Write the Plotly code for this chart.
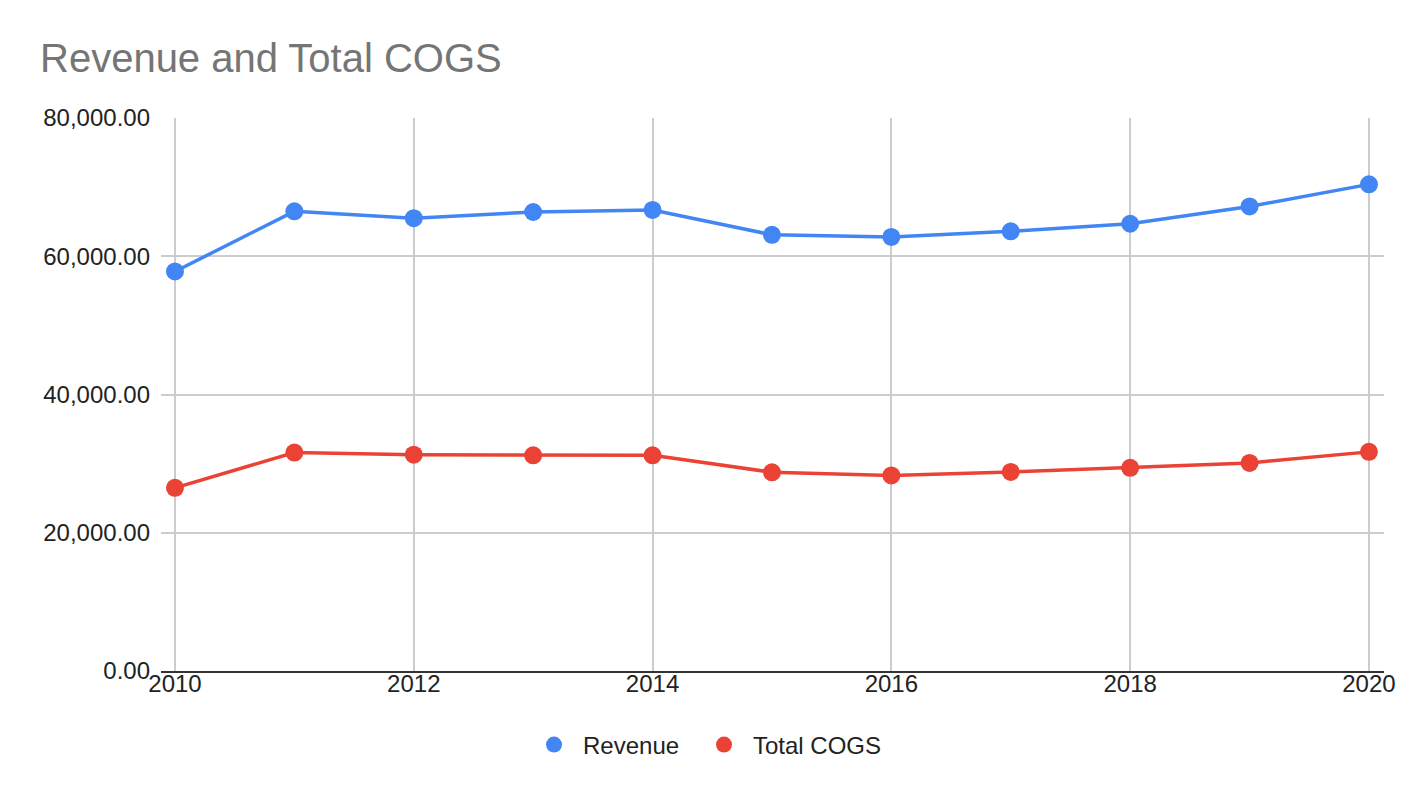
import plotly.graph_objects as go

years = [2010, 2011, 2012, 2013, 2014, 2015, 2016, 2017, 2018, 2019, 2020]
revenue = [57800, 66500, 65500, 66400, 66700, 63100, 62800, 63600, 64700, 67200, 70400]
total_cogs = [26500, 31600, 31300, 31200, 31200, 28750, 28300, 28800, 29400, 30100, 31700]

blue = "#4285F4"
red = "#EA4335"
font_family = "Liberation Sans, Arial, sans-serif"

# page body has an 8px margin; layout below compensates for it
W, H = 1424, 798
OFF = 8

fig = go.Figure()
for name, vals, col in [("Revenue", revenue, blue), ("Total COGS", total_cogs, red)]:
    fig.add_trace(go.Scatter(
        x=years, y=vals, name=name, mode="lines+markers",
        line=dict(color=col, width=3.5),
        marker=dict(color=col, size=18),
        showlegend=False, hoverinfo="x+y+name",
    ))
for name, col, lg in [("Revenue", blue, "legend"), ("Total COGS", red, "legend2")]:
    fig.add_trace(go.Scatter(
        x=[None], y=[None], name=name, mode="markers",
        marker=dict(color=col, size=24), showlegend=True, legend=lg,
    ))

leg_common = dict(orientation="h", xref="container", yref="container",
                  xanchor="left", yanchor="middle", y=1 - (745 - OFF) / H,
                  font=dict(size=24, color="#222222"), itemsizing="trace",
                  itemwidth=48)

fig.update_layout(
    width=W, height=H,
    paper_bgcolor="white", plot_bgcolor="white",
    margin=dict(l=161 - OFF, r=40 + OFF, t=118 - OFF, b=127 + OFF, pad=0),
    font=dict(family=font_family, size=24, color="#222222"),
    title=dict(text="Revenue and Total COGS", x=(40 - OFF) / W, xanchor="left",
               y=1 - (58 - OFF) / H, yanchor="middle",
               font=dict(size=40, color="#757575", family=font_family)),
    showlegend=True,
    legend=dict(x=(525 - OFF) / W, **leg_common),
    legend2=dict(x=(695 - OFF) / W, **leg_common),
)
fig.update_xaxes(
    range=[2009.883, 2020.126], tickmode="linear", tick0=2010, dtick=2,
    tickformat="d", showgrid=True, gridcolor="#cccccc", gridwidth=1.5,
    showline=True, linecolor="#333333", linewidth=2, ticks="", zeroline=False,
    tickfont=dict(size=24, color="#222222"), ticklabelstandoff=-10,
)
fig.update_yaxes(
    range=[0, 80000], tickmode="linear", tick0=0, dtick=20000,
    tickformat=",.2f", showgrid=True, gridcolor="#cccccc", gridwidth=1.5,
    zeroline=False, ticks="", ticklabelstandoff=10,
    tickfont=dict(size=24, color="#222222"),
)

fig.write_html("out.html")
